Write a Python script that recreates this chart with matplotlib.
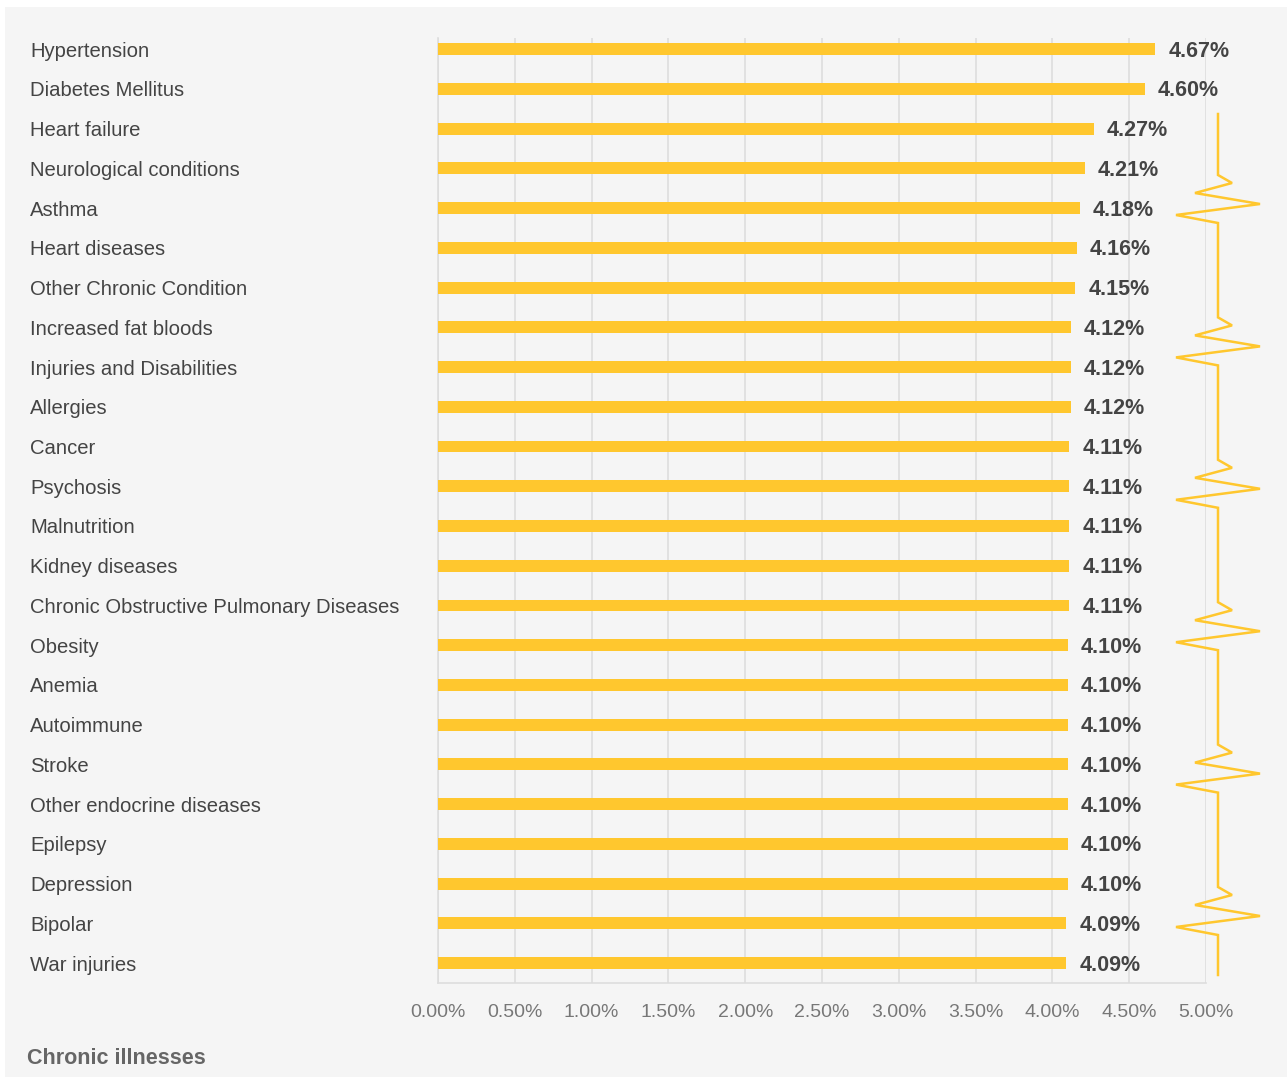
import matplotlib.pyplot as plt
from matplotlib.patches import Rectangle
from matplotlib.lines import Line2D

conditions = [
    "Hypertension", "Diabetes Mellitus", "Heart failure", "Neurological conditions",
    "Asthma", "Heart diseases", "Other Chronic Condition", "Increased fat bloods",
    "Injuries and Disabilities", "Allergies", "Cancer", "Psychosis", "Malnutrition",
    "Kidney diseases", "Chronic Obstructive Pulmonary Diseases", "Obesity", "Anemia",
    "Autoimmune", "Stroke", "Other endocrine diseases", "Epilepsy", "Depression",
    "Bipolar", "War injuries",
]
shares = [
    4.67, 4.60, 4.27, 4.21, 4.18, 4.16, 4.15, 4.12, 4.12, 4.12, 4.11, 4.11,
    4.11, 4.11, 4.11, 4.10, 4.10, 4.10, 4.10, 4.10, 4.10, 4.10, 4.09, 4.09,
]
x_ticks = [0, 0.5, 1.0, 1.5, 2.0, 2.5, 3.0, 3.5, 4.0, 4.5, 5.0]
footer = "Chronic illnesses"

W, H, DPI = 1287, 1077, 100
BAR = "#FFC72E"
GRID = "#dddddd"

fig = plt.figure(figsize=(W / DPI, H / DPI), dpi=DPI, facecolor="white")
plt.rcParams["font.family"] = ["Liberation Sans", "DejaVu Sans"]

# light panel behind everything
fig.patches.append(Rectangle((5 / W, 0), 1 - 5 / W, 1 - 7 / H, transform=fig.transFigure,
                             facecolor="#f5f5f5", edgecolor="none", zorder=-10))

left, right, top, bottom = 438, 1206, 38, 983
ax = fig.add_axes([left / W, 1 - bottom / H, (right - left) / W, (bottom - top) / H])
ax.set_facecolor("none")

pos = list(range(len(conditions)))
ax.barh(pos, shares, height=0.3, color=BAR, zorder=3)
ax.set_xlim(0, 5)
ax.set_ylim(len(conditions) - 0.5, -0.28)

ax.set_xticks(x_ticks, labels=[f"{t:.2f}%" for t in x_ticks])
ax.set_yticks(pos, labels=conditions)
ax.tick_params(axis="x", length=0, pad=15, labelsize=14, labelcolor="#777777")
ax.tick_params(axis="y", length=0, pad=(left - 30) * 72 / DPI, labelsize=14.6, labelcolor="#444444")
for lbl in ax.get_yticklabels():
    lbl.set_ha("left")
    lbl.set_va("center_baseline")

ax.grid(axis="x", color=GRID, linewidth=1.2, zorder=0)
for side in ["top", "right"]:
    ax.spines[side].set_visible(False)
for side in ["left", "bottom"]:
    ax.spines[side].set_color(GRID)
    ax.spines[side].set_linewidth(1.2)

for i, v in enumerate(shares):
    ax.annotate(f"{v:.2f}%", (v, i), xytext=(13, -2), textcoords="offset pixels",
                ha="left", va="center", fontsize=15.5, fontweight="bold", color="#444444")

fig.text(27 / W, 1 - 1058 / H, footer, ha="left", va="center", fontsize=15.5,
         fontweight="bold", color="#666666")

# zigzag ornament down the right edge
spine_x = 1218
zig = [(0, 0), (14, 8), (-23, 18), (42, 29), (-42, 40), (0, 48)]
pts = [(spine_x, 114)]
for k in range(6):
    y0 = 175 + k * 142.4
    pts += [(spine_x + dx, y0 + dy) for dx, dy in zig]
pts.append((spine_x, 975))
fig.add_artist(Line2D([p[0] / W for p in pts], [1 - p[1] / H for p in pts],
                      transform=fig.transFigure, color=BAR, linewidth=1.8,
                      solid_joinstyle="miter"))

fig.savefig("out.png", dpi=DPI, facecolor=fig.get_facecolor())
